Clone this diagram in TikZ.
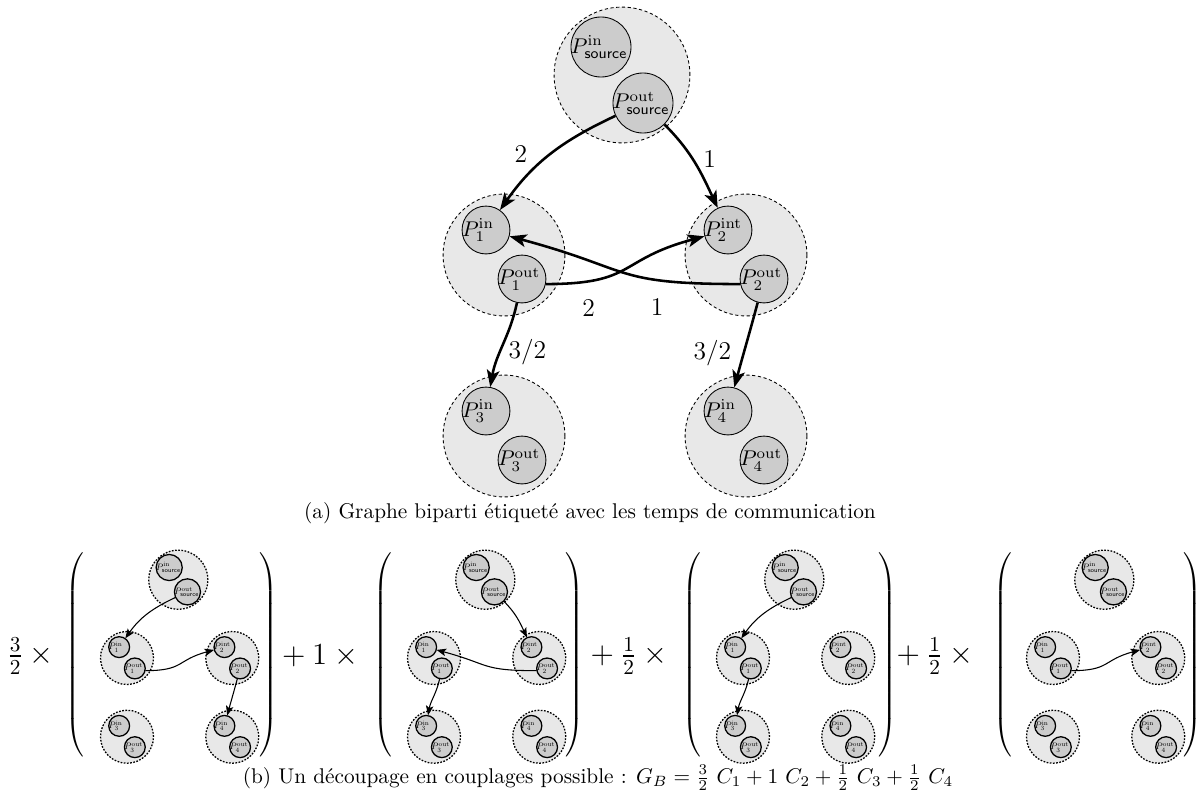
\documentclass[tikz,border=0pt]{standalone}
\usepackage{amsmath}
\usetikzlibrary{arrows.meta,positioning}

\tikzset{
  grand/.style={circle, draw, dash pattern=on 1.5pt off 1.2pt, fill=gray!18, minimum size=2.01cm, inner sep=0pt},
  grand source/.style={grand, minimum size=2.24cm},
  petit/.style={circle, draw, solid, fill=gray!40, minimum size=0.79cm, inner sep=0pt},
  petit source/.style={petit, minimum size=0.99cm},
  etiq/.style={anchor=west, inner sep=0pt},
  poids/.style={font=\large},
  coef/.style={font=\Large, inner sep=0pt},
  fleche/.style={-{Stealth[length=8pt,width=6pt,inset=2pt]}, line width=1.2pt},
  petite fleche/.style={-{Stealth[length=4.5pt,width=3.5pt,inset=1pt]}, line width=0.5pt},
  reduit/.style={scale=.435, transform shape,
    grand/.append style={dash pattern=on 0.8pt off 0.7pt, line width=0.6pt},
    petit/.append style={line width=0.6pt}},
}

% les cinq couples de processeurs, prefixe #1
\newcommand{\graphe}[1]{%
  \node[grand source] (#1s) at (118,180) {};
  \foreach \n/\x/\y in {p1/0/0, p2/242/0, p3/0/-181, p4/242/-181}
    \node[grand] (#1\n) at (\x,\y) {};
  \node[petit source, label={[etiq]180:$P^{\mathrm{in}}_{\mathsf{source}}$}] (#1si) at (97,208) {};
  \node[petit source, label={[etiq]180:$P^{\mathrm{out}}_{\mathsf{source}}$}] (#1so) at (139,152) {};
  \foreach \n/\x/\y/\e in {1/0/0/in, 2/242/0/int, 3/0/-181/in, 4/242/-181/in} {
    \node[petit, label={[etiq]180:$P^{\mathrm{\e}}_{\n}$}] (#1p\n i) at (\x-18,\y+25) {};
    \node[petit, label={[etiq]180:$P^{\mathrm{out}}_{\n}$}] (#1p\n o) at (\x+18,\y-24) {};
  }
}

\begin{document}
\begin{tikzpicture}[x=0.0165cm, y=0.0165cm]
\useasboundingbox (0,0) rectangle (1203,-796);

% (a) graphe biparti
\begin{scope}[shift={(504,-255)}]
  \graphe{h}
  \draw[fleche] (hso) to[out=205,in=55] node[poids,pos=.5,left=7pt] {$2$} (hp1i);
  \draw[fleche] (hso) to[out=-45,in=115] node[poids,pos=.45,right=1pt] {$1$} (hp2i);
  \draw[fleche] (hp1o.-12) to[out=0,in=195,looseness=1.4] node[poids,pos=.2,below=5pt] {$2$} (hp2i);
  \draw[fleche] (hp2o.192) to[out=180,in=-15,looseness=1.4] node[poids,pos=.3,below=5pt] {$1$} (hp1i);
  \draw[fleche] (hp1o) to[out=258,in=80] node[poids,pos=.6,right=0pt] {$3/2$} (hp3i);
  \draw[fleche] (hp2o) to[out=255,in=75] node[poids,pos=.6,left=2pt] {$3/2$} (hp4i);
\end{scope}
\node (legendeA) at (590,-513) {(a) Graphe biparti étiqueté avec les temps de communication};

% (b) decoupage en couplages
\node[coef] (coef1) at (34,-656) {$\frac{3}{2}\times{}$};
\node (pg1) at (76,-655) {$\left(\vcenter{\hbox{\rule{0pt}{98pt}}}\right.$};
\begin{scope}[shift={(127,-658)}, reduit]
  \graphe{c1}
  \draw[petite fleche] (c1so) to[out=205,in=55] (c1p1i);
  \draw[petite fleche] (c1p1o.-12) to[out=0,in=195,looseness=1.4] (c1p2i);
  \draw[petite fleche] (c1p2o) to[out=255,in=75] (c1p4i);
\end{scope}
\node (pd1) at (268,-655) {$\left.\vcenter{\hbox{\rule{0pt}{98pt}}}\right)$};

\node[coef] (coef2) at (320,-656) {${}+1\times{}$};
\node (pg2) at (384,-655) {$\left(\vcenter{\hbox{\rule{0pt}{98pt}}}\right.$};
\begin{scope}[shift={(434,-658)}, reduit]
  \graphe{c2}
  \draw[petite fleche] (c2so) to[out=-45,in=115] (c2p2i);
  \draw[petite fleche] (c2p2o.192) to[out=180,in=-15,looseness=1.4] (c2p1i);
  \draw[petite fleche] (c2p1o) to[out=258,in=80] (c2p3i);
\end{scope}
\node (pd2) at (574,-655) {$\left.\vcenter{\hbox{\rule{0pt}{98pt}}}\right)$};

\node[coef] (coef3) at (629,-656) {${}+\frac{1}{2}\times{}$};
\node (pg3) at (693,-655) {$\left(\vcenter{\hbox{\rule{0pt}{98pt}}}\right.$};
\begin{scope}[shift={(743,-658)}, reduit]
  \graphe{c3}
  \draw[petite fleche] (c3so) to[out=205,in=55] (c3p1i);
  \draw[petite fleche] (c3p1o) to[out=258,in=80] (c3p3i);
\end{scope}
\node (pd3) at (887,-655) {$\left.\vcenter{\hbox{\rule{0pt}{98pt}}}\right)$};

\node[coef] (coef4) at (935,-656) {${}+\frac{1}{2}\times{}$};
\node (pg4) at (1004,-655) {$\left(\vcenter{\hbox{\rule{0pt}{98pt}}}\right.$};
\begin{scope}[shift={(1053,-658)}, reduit]
  \graphe{c4}
  \draw[petite fleche] (c4p1o.-12) to[out=0,in=195,looseness=1.4] (c4p2i);
\end{scope}
\node (pd4) at (1192,-655) {$\left.\vcenter{\hbox{\rule{0pt}{98pt}}}\right)$};

\node (legendeB) at (598,-778) {(b) Un découpage en couplages possible : $G_B = \frac{3}{2}\ C_1 + 1\ C_2 + \frac{1}{2}\ C_3 + \frac{1}{2}\ C_4$};
\end{tikzpicture}
\end{document}
